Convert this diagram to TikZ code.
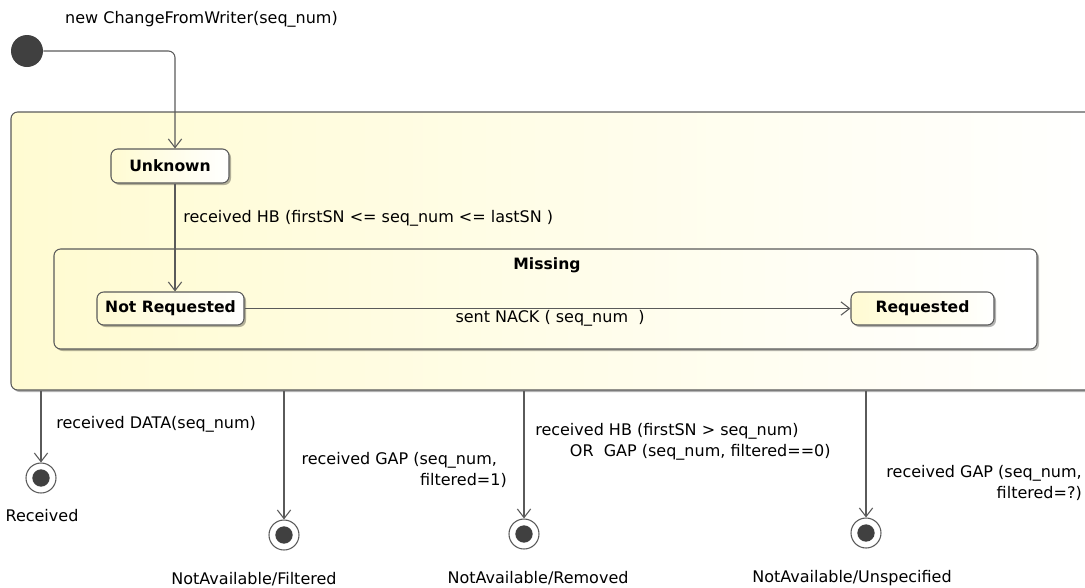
\documentclass[tikz,border=0pt]{standalone}
\usepackage{fontspec}
\setmainfont{DejaVu Sans}
\usetikzlibrary{arrows.meta,shadows}
\definecolor{ln}{HTML}{5A5A5A}
\definecolor{dk}{HTML}{404040}
\definecolor{yl}{HTML}{FFFBD2}
\tikzset{
  lbl/.style={font=\fontsize{12}{15.5}\selectfont, inner sep=0pt, text=black},
  ttl/.style={font=\bfseries\fontsize{11.7}{13}\selectfont, text=black},
  edge/.style={draw=ln, line width=0.8pt, -{Straight Barb[length=6.5pt,width=10pt,line width=0.8pt]}},
  shade/.style={left color=yl, right color=white},
  shd/.style={drop shadow={shadow xshift=1.5pt, shadow yshift=-1.5pt, fill=black, opacity=0.3}},
  composite/.style={draw=ln, line width=0.8pt, rounded corners=5pt, shade, shd, inner sep=0pt},
  statebox/.style={draw=ln, line width=0.8pt, rounded corners=5pt, shade, shd, ttl, inner sep=0pt},
  initial/.style={circle, fill=dk, minimum size=24pt, inner sep=0pt},
  final/.style={circle, draw=ln, line width=0.8pt, fill=white, minimum size=22.5pt, inner sep=0pt,
    path picture={\fill[dk] (path picture bounding box.center) circle (6.5pt);}},
}
\begin{document}
\begin{tikzpicture}[x=0.75pt, y=-0.75pt]
\useasboundingbox (0,0) rectangle (1085,587);
\clip (0,0) rectangle (1085,587);

% outer composite state
\node[composite, minimum width=822pt, minimum height=208.5pt] (outer) at (559,251) {};
% Missing composite
\node[composite, minimum width=737.25pt, minimum height=75pt] (missing) at (545.5,299) {};
\node[ttl] (missingt) at (547,265) {Missing};

% states
\node[statebox, minimum width=88.5pt, minimum height=25.5pt] (unknown) at (170,166) {Unknown};
\node[statebox, minimum width=110.25pt, minimum height=24.75pt] (notreq) at (170.5,308.5) {Not Requested};
\node[statebox, minimum width=107.25pt, minimum height=24.75pt] (req) at (922.5,308.5) {Requested};

% initial
\node[initial] (init) at (27,51) {};
\coordinate (turn) at (175,51);
\node[lbl] (initlbl) at (201.5,19) {new ChangeFromWriter(seq\_num)};
\draw[edge, rounded corners=5pt] (init.east) -- (turn) -- (unknown.north -| turn);

% Unknown -> Not requested
\draw[edge] (unknown.south -| turn) -- (notreq.north -| turn);
\node[lbl, anchor=west] (hblbl) at (183,218) {received HB (firstSN <= seq\_num <= lastSN )};

% Not Requested -> Requested
\draw[edge] (notreq.east) -- (req.west);
\node[lbl] (nacklbl) at (550,318) {sent NACK ( seq\_num~~)};

% final states
\node[final] (f1) at (41,478) {};
\node[final] (f2) at (284,535) {};
\node[final] (f3) at (524,534) {};
\node[final] (f4) at (866,533) {};

\node[lbl] (f1lbl) at (42,516) {Received};
\node[lbl] (f2lbl) at (254,579) {NotAvailable/Filtered};
\node[lbl] (f3lbl) at (538,578) {NotAvailable/Removed};
\node[lbl] (f4lbl) at (852,578) {NotAvailable/Unspecified};

\draw[edge] (outer.south -| f1) -- (f1);
\draw[edge] (outer.south -| f2) -- (f2);
\draw[edge] (outer.south -| f3) -- (f3);
\draw[edge] (outer.south -| f4) -- (f4);

\node[lbl, anchor=west] (e1lbl) at (56,424) {received DATA(seq\_num)};
\node[lbl, anchor=north east, align=right] (e2lbl) at (507,452) {received GAP (seq\_num,\phantom{a}\\filtered=1)};
\node[lbl, anchor=north west, align=left] (e3lbl) at (535,423) {received HB (firstSN > seq\_num)\\\hspace*{26pt}OR~~GAP (seq\_num, filtered==0)};
\node[lbl, anchor=north east, align=right] (e4lbl) at (1082,465) {received GAP (seq\_num,\\filtered=?)};
\end{tikzpicture}
\end{document}
